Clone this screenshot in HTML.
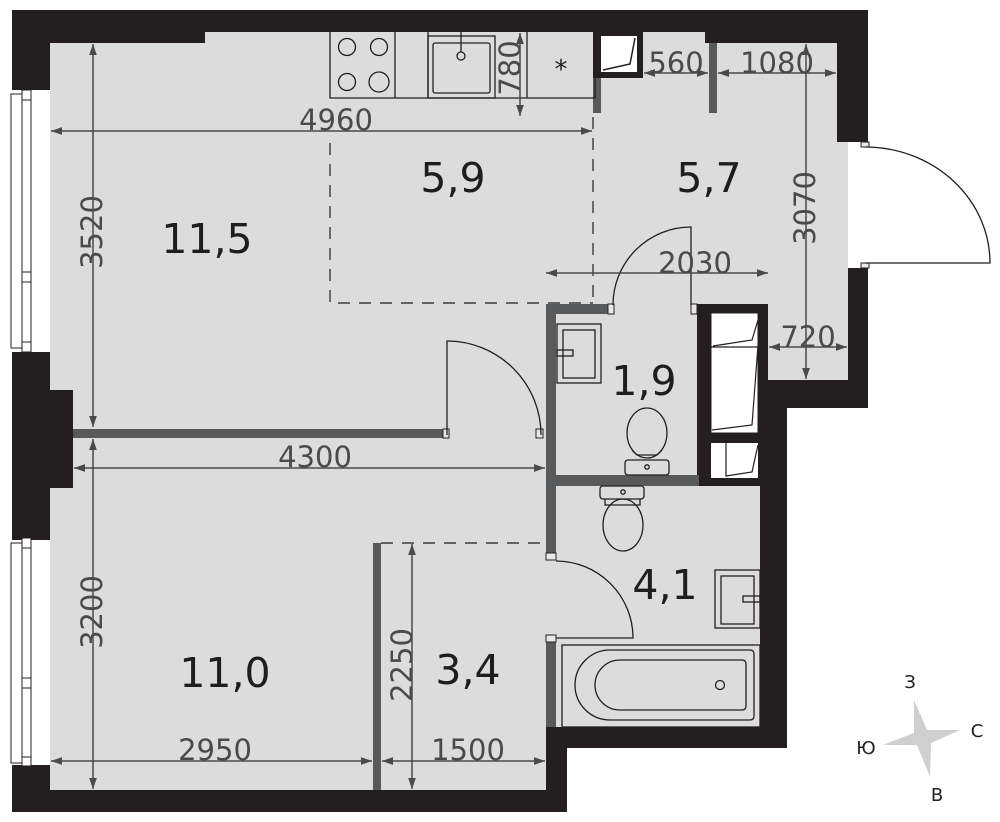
<!DOCTYPE html>
<html><head><meta charset="utf-8"><style>
html,body{margin:0;padding:0;background:#fff}
svg{display:block}
text{font-family:"DejaVu Sans","Liberation Sans",sans-serif}
</style></head><body>
<svg width="1000" height="822" viewBox="0 0 1000 822" xmlns="http://www.w3.org/2000/svg">
<defs>
<marker id="a" viewBox="0 0 10 10" refX="10" refY="5" markerWidth="11" markerHeight="11" orient="auto-start-reverse" markerUnits="userSpaceOnUse"><path d="M0,1.5 L10,5 L0,8.5z" fill="#4a4a4a"/></marker>
</defs>
<polygon points="50,32 848,32 848,380 760,380 760,727 546,727 546,790 50,790" fill="#dcdcdc"/>
<rect x="848" y="142" width="20" height="126" fill="#fff"/>
<g fill="#231f20">
<rect x="12" y="10" width="693" height="22"/>
<rect x="50" y="32" width="155" height="11"/>
<rect x="12" y="10" width="38" height="80"/>
<rect x="705" y="10" width="163" height="33"/>
<rect x="837" y="43" width="31" height="99"/>
<rect x="848" y="268" width="20" height="112"/>
<rect x="760" y="380" width="108" height="28"/>
<rect x="760" y="408" width="27" height="340"/>
<rect x="546" y="727" width="241" height="21"/>
<rect x="546" y="748" width="21" height="64"/>
<rect x="12" y="790" width="555" height="22"/>
<rect x="12" y="352" width="38" height="188"/>
<rect x="50" y="390" width="23" height="98"/>
<rect x="12" y="765" width="38" height="47"/>
<rect x="593" y="32" width="50" height="46"/>
<rect x="697" y="304" width="71" height="182"/>
</g>
<rect x="601" y="36" width="36" height="36" fill="#fff"/>
<path d="M603,70 L630,64 L635,38" fill="none" stroke="#231f20" stroke-width="1.5"/>
<rect x="711" y="313" width="47" height="120" fill="#fff" stroke="#231f20" stroke-width="1"/>
<line x1="711" y1="347" x2="758" y2="347" stroke="#231f20" stroke-width="1.2"/>
<path d="M713,346 L752,340 L758,320 M712,430 L752,425 L758,345" fill="none" stroke="#231f20" stroke-width="1.2"/>
<rect x="711" y="443" width="47" height="35" fill="#fff"/>
<path d="M726,443 L726,476 L752,472 L758,445" fill="none" stroke="#231f20" stroke-width="1.2"/>
<g fill="#fff" stroke="#231f20" stroke-width="1">
<rect x="11" y="94" width="11" height="254"/><rect x="22" y="90" width="9" height="262"/>
<line x1="22" y1="100" x2="31" y2="100"/><line x1="22" y1="272" x2="31" y2="272"/><line x1="22" y1="282" x2="31" y2="282"/><line x1="22" y1="342" x2="31" y2="342"/>
<rect x="11" y="543" width="11" height="220"/><rect x="22" y="538" width="9" height="228"/>
<line x1="22" y1="548" x2="31" y2="548"/><line x1="22" y1="678" x2="31" y2="678"/><line x1="22" y1="688" x2="31" y2="688"/><line x1="22" y1="757" x2="31" y2="757"/>
</g>
<g fill="#58595b">
<rect x="73" y="429" width="370" height="9"/>
<rect x="546" y="304" width="10" height="254"/>
<rect x="546" y="304" width="62" height="10"/>
<rect x="556" y="475" width="143" height="11"/>
<rect x="546" y="640" width="10" height="87"/>
<rect x="373" y="543" width="8" height="247"/>
<rect x="593" y="78" width="8" height="35"/>
<rect x="709" y="43" width="8" height="70"/>
</g>
<g fill="#e8e8e8" stroke="#231f20" stroke-width="1">
<rect x="443" y="429" width="6" height="9"/><rect x="536" y="429" width="7" height="9"/>
<rect x="608" y="304" width="6" height="10"/><rect x="691" y="304" width="6" height="10"/>
<rect x="546" y="553" width="10" height="7"/><rect x="546" y="635" width="10" height="7"/>
<rect x="861" y="142" width="8" height="5"/><rect x="861" y="263" width="8" height="5"/>
</g>
<g fill="none" stroke="#231f20" stroke-width="1.3">
<path d="M447,435 L447,341 A94,94 0 0 1 541,435"/>
<path d="M691,305 L691,227 A78,78 0 0 0 613,305"/>
<path d="M556,561 A77,77 0 0 1 633,638 L556,638"/>
<path d="M865,147 A125,116 0 0 1 990,263 L865,263"/>
</g>
<g fill="none" stroke="#3a3a3a" stroke-width="1.4" stroke-dasharray="12,9">
<path d="M330,143 L330,303 L593,303"/>
<path d="M593,117 L593,303"/>
<path d="M381,543 L546,543"/>
</g>
<g fill="none" stroke="#231f20" stroke-width="1.3">
<path d="M330,32 L330,98 L595,98 L595,32"/>
<line x1="395" y1="32" x2="395" y2="98"/><line x1="428" y1="32" x2="428" y2="98"/>
<line x1="527" y1="32" x2="527" y2="98"/>
<rect x="428" y="36" width="67" height="62"/>
<rect x="433" y="43" width="57" height="50" rx="2"/>
<line x1="461" y1="32" x2="461" y2="52"/><circle cx="461" cy="56" r="4"/>
<circle cx="347" cy="47" r="8.5"/><circle cx="379" cy="47" r="8.5"/>
<circle cx="347" cy="82" r="8.5"/><circle cx="379" cy="82" r="10"/>
</g>
<text x="561" y="78" font-size="26" text-anchor="middle" fill="#231f20">*</text>
<g fill="none" stroke="#231f20" stroke-width="1.3">
<rect x="557" y="324" width="44" height="59"/><rect x="563" y="330" width="32" height="48"/>
<rect x="557" y="350" width="16" height="6"/>
<ellipse cx="647" cy="433" rx="20" ry="25"/>
<path d="M632,450 L637,455 L657,455 L662,450"/>
<rect x="625" y="460" width="44" height="15" rx="3"/><circle cx="647" cy="467" r="2.2"/>
<rect x="600" y="486" width="44" height="13" rx="3"/><circle cx="623" cy="492" r="2.2"/>
<path d="M605,499 L605,505 L640,505 L640,499"/>
<ellipse cx="623" cy="525" rx="20" ry="26"/>
<rect x="715" y="570" width="45" height="58"/><rect x="721" y="576" width="33" height="48"/>
<rect x="743" y="596" width="17" height="6"/>
<rect x="562" y="645" width="198" height="82"/>
<path d="M610,650 L750,650 Q754,650 754,654 L754,716 Q754,720 750,720 L610,720 A35,35 0 0 1 610,650 Z"/>
<path d="M620,660 L742,660 Q746,660 746,664 L746,706 Q746,710 742,710 L620,710 A25,25 0 0 1 620,660 Z"/>
<circle cx="720" cy="685" r="4.5"/>
</g>
<g stroke="#4a4a4a" stroke-width="1.5" fill="none">
<line x1="51" y1="131" x2="592" y2="131" marker-start="url(#a)" marker-end="url(#a)"/>
<line x1="93" y1="44" x2="93" y2="427" marker-start="url(#a)" marker-end="url(#a)"/>
<line x1="74" y1="468" x2="545" y2="468" marker-start="url(#a)" marker-end="url(#a)"/>
<line x1="93" y1="439" x2="93" y2="789" marker-start="url(#a)" marker-end="url(#a)"/>
<line x1="51" y1="761" x2="372" y2="761" marker-start="url(#a)" marker-end="url(#a)"/>
<line x1="382" y1="761" x2="545" y2="761" marker-start="url(#a)" marker-end="url(#a)"/>
<line x1="412" y1="544" x2="412" y2="789" marker-start="url(#a)" marker-end="url(#a)"/>
<line x1="520" y1="33" x2="520" y2="116" marker-start="url(#a)" marker-end="url(#a)"/>
<line x1="644" y1="73" x2="708" y2="73" marker-start="url(#a)" marker-end="url(#a)"/>
<line x1="718" y1="73" x2="836" y2="73" marker-start="url(#a)" marker-end="url(#a)"/>
<line x1="806" y1="44" x2="806" y2="379" marker-start="url(#a)" marker-end="url(#a)"/>
<line x1="546" y1="273" x2="768" y2="273" marker-start="url(#a)" marker-end="url(#a)"/>
<line x1="769" y1="347" x2="847" y2="347" marker-start="url(#a)" marker-end="url(#a)"/>
</g>
<g fill="#4a4a4a" font-size="29" text-anchor="middle">
<text x="336" y="130">4960</text>
<text x="315" y="467">4300</text>
<text x="215" y="760">2950</text>
<text x="468" y="760">1500</text>
<text x="676" y="73">560</text>
<text x="777" y="73">1080</text>
<text x="695" y="273">2030</text>
<text x="808" y="347">720</text>
<text transform="translate(102,232) rotate(-90)">3520</text>
<text transform="translate(102,612) rotate(-90)">3200</text>
<text transform="translate(412,665) rotate(-90)">2250</text>
<text transform="translate(815,208) rotate(-90)">3070</text>
<text transform="translate(520,68) rotate(-90)">780</text>
</g>
<g fill="#1e1e1e" font-size="41" text-anchor="middle">
<text x="207" y="253">11,5</text>
<text x="453" y="192">5,9</text>
<text x="709" y="192">5,7</text>
<text x="644" y="395">1,9</text>
<text x="225" y="687">11,0</text>
<text x="468" y="684">3,4</text>
<text x="665" y="599">4,1</text>
</g>
<polygon points="914,700 927,730 960,730 931,743 930,777 917,745 883,745 914,733" fill="#cfcfcf"/>
<g fill="#231f20" font-size="18" text-anchor="middle">
<text x="910" y="688">З</text>
<text x="977" y="737">С</text>
<text x="937" y="801">В</text>
<text x="866" y="754">Ю</text>
</g>
</svg>
</body></html>
